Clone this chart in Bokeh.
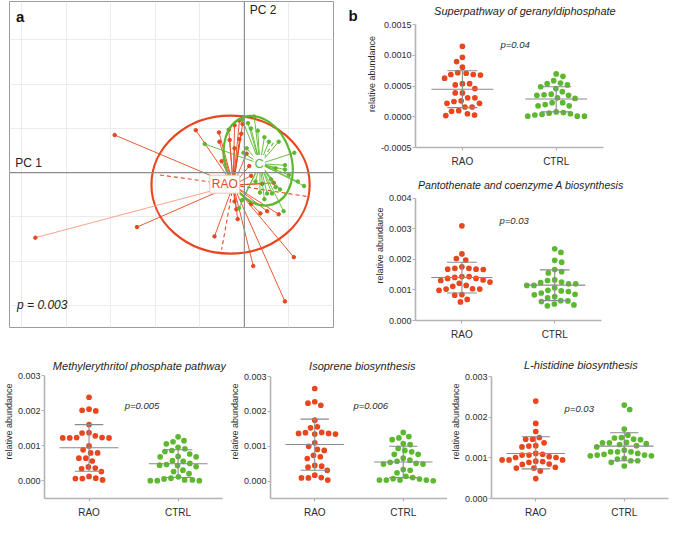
import math
from bokeh.plotting import figure
from bokeh.layouts import row, column
from bokeh.models import Label, FixedTicker, Range1d, Span, PrintfTickFormatter
from bokeh.embed import file_html
from bokeh.resources import INLINE

FONT = "Liberation Sans"
RED = "#e8461e"
RED_LIGHT = "#f4a58a"
GREEN = "#5cb82e"
AXIS_GRAY = "#b3b3b3"
STAT_GRAY = "#8a8a8a"

# ---------------- Panel a: PCA spider plot ----------------
RAO_CENTROID = (-0.25, -0.28)
CTRL_CENTROID = (0.35, 0.20)
RAO_PC1 = [-2.41, -2.91, -1.09, -0.67, 0.20, 0.91, 1.11, 0.77, 0.51, 0.36, 0.15, -0.18,
           -0.22, -0.57, -0.35, -0.22, -0.11, -0.04, -0.07, -0.33, -0.22, -0.51, 0.11,
           0.15, 0.40, 0.66, -0.56, -0.11, 0.05, -0.15]
RAO_PC2 = [-1.23, 0.85, 0.96, -1.44, -2.11, -2.91, -1.91, -0.94, -0.87, -0.92, -0.71, -0.83,
           -0.65, 0.91, 0.97, 1.07, 1.18, 1.10, 0.88, 0.74, 0.55, 0.26, 0.15,
           -0.07, -0.25, -0.23, 0.70, 0.76, 0.43, -1.05]
RAO_OUTLIER = (-4.69, -1.47)
RAO_DASHED_PC1 = [-1.90, -0.51, 1.42]
RAO_DASHED_PC2 = [-0.05, -1.74, -0.54]
CTRL_PC1 = [-0.89, -0.05, 0.22, 0.08, 0.15, 0.30, 0.45, 0.55, 0.77, 1.12, 0.91, 0.91, 1.00,
            1.34, 0.80, 0.70, 0.62, 0.51, 0.88, 0.45, -0.12, -0.05, 0.25, 0.05, 0.40,
            -0.02, 0.70, 0.60, 1.20, 0.35]
CTRL_PC2 = [0.65, 1.20, 1.27, 1.12, 1.00, 0.95, 0.80, 0.70, 0.70, 0.45, 0.17, 0.07, -0.05,
            -0.30, -0.38, -0.33, -0.47, -0.47, -0.87, -0.60, -0.80, -0.62, -0.20, 0.55, 0.35,
            0.45, 0.10, -0.15, -0.20, -0.45]
CTRL_DASHED_PC1 = [0.68]
CTRL_DASHED_PC2 = [0.72]
# ellipses: centre x, centre y, width, height, angle(deg)
RAO_ELLIPSE = (-0.31, -0.27, 3.55, 3.12, 0.0)
CTRL_ELLIPSE = (0.31, 0.27, 2.06, 1.49, -71.0)
PCA_GRID = [-5, -4, -3, -2, -1, 0, 1, 2]
PCA_GRID_Y = [-3, -2, -1, 0, 1, 2, 3]
P_PCA = "p = 0.003"

# ---------------- Panel b / bottom: dot plots ----------------
CATEGORIES = ["RAO", "CTRL"]

SUPER_UNIT = 1e-4
SUPER_RAO = [11.5, 9.7, 9.0, 8.1, 7.1, 6.9, 6.3, 6.8, 6.9, 7.2, 5.4, 5.2, 4.6, 5.4, 3.9, 3.9,
             2.6, 3.1, 3.1, 2.5, 2.2, 2.2, 1.6, 1.6, 1.0, 0.5, 0.2, 0.3, 0.9]
SUPER_CTRL = [7.0, 6.6, 5.5, 5.9, 5.2, 4.6, 4.9, 5.4, 4.1, 3.6, 3.5, 3.1, 3.0, 3.5, 3.7, 2.3,
              1.8, 1.8, 2.0, 2.3, 0.8, 0.6, 0.4, 0.1, 0.1, 0.1, 0.3, 0.5, 0.7]
SUPER_STATS = [(4.5, 1.5, 7.5), (2.9, 0.8, 4.9)]  # mean, mean-SD, mean+SD

PANTO_UNIT = 1e-3
PANTO_RAO = [3.10, 2.18, 2.03, 1.98, 1.71, 1.68, 1.68, 1.67, 1.71, 1.76, 1.44, 1.41, 1.38, 1.33,
             1.38, 1.44, 1.31, 1.22, 1.26, 1.03, 0.99, 1.12, 1.03, 1.04, 1.15, 0.83, 0.85, 0.61, 0.69]
PANTO_CTRL = [2.35, 2.23, 1.97, 1.91, 1.67, 1.56, 1.60, 1.31, 1.26, 1.33, 1.24, 1.20, 1.15, 1.20,
              1.15, 1.07, 0.97, 0.90, 0.95, 0.86, 0.78, 0.74, 0.84, 0.64, 0.54, 0.48, 0.51, 0.62,
              0.65, 0.99]
PANTO_STATS = [(1.41, 0.90, 1.91), (1.16, 0.65, 1.66)]

METHYL_UNIT = 1e-3
METHYL_RAO = [2.39, 2.05, 2.00, 2.02, 1.61, 1.37, 1.24, 1.23, 1.23, 1.23, 1.24, 1.29, 1.38, 1.00,
              0.89, 0.80, 0.80, 0.65, 0.57, 0.65, 0.40, 0.35, 0.37, 0.27, 0.13, 0.07, 0.03, 0.07, 0.08]
METHYL_CTRL = [1.26, 1.15, 1.06, 1.12, 0.92, 0.96, 0.87, 0.84, 0.69, 0.69, 0.77, 0.70, 0.56, 0.47,
               0.50, 0.58, 0.45, 0.41, 0.44, 0.31, 0.27, 0.12, 0.06, 0.03, 0.01, 0.01, 0.01, 0.03,
               0.08, 0.21]
METHYL_STATS = [(0.95, 0.28, 1.61), (0.49, 0.10, 0.89)]

ISOP_UNIT = 1e-3
ISOP_RAO = [2.66, 2.24, 2.18, 2.28, 1.75, 1.56, 1.40, 1.37, 1.35, 1.35, 1.37, 1.39, 1.53, 1.10,
            1.00, 0.91, 0.88, 0.74, 0.70, 0.65, 0.45, 0.40, 0.43, 0.31, 0.17, 0.09, 0.03, 0.09, 0.10]
ISOP_CTRL = [1.40, 1.19, 1.28, 1.24, 1.05, 1.08, 0.88, 0.94, 0.77, 0.77, 0.84, 0.60, 0.66, 0.49,
             0.49, 0.54, 0.51, 0.57, 0.31, 0.24, 0.33, 0.14, 0.07, 0.03, 0.03, 0.01, 0.03, 0.03,
             0.06, 0.10]
ISOP_STATS = [(1.05, 0.31, 1.78), (0.55, 0.10, 1.00)]

HIST_UNIT = 1e-3
HIST_RAO = [2.40, 1.85, 1.65, 1.46, 1.46, 1.50, 1.30, 1.27, 1.29, 1.37, 1.07, 1.03, 1.09, 1.11,
            1.01, 1.01, 1.07, 0.95, 0.95, 0.91, 0.89, 0.92, 0.95, 0.85, 0.84, 0.77, 0.75, 0.75,
            0.68, 0.49]
HIST_CTRL = [2.30, 2.19, 1.71, 1.50, 1.46, 1.49, 1.56, 1.38, 1.37, 1.45, 1.33, 1.27, 1.30, 1.35,
             1.37, 1.19, 1.15, 1.11, 1.07, 1.05, 1.05, 1.07, 1.09, 1.15, 1.15, 0.99, 0.97, 0.93,
             0.89, 0.93, 0.80]
HIST_STATS = [(1.11, 0.73, 1.52), (1.29, 0.93, 1.62)]

TITLES = ["Superpathway of geranyldiphosphate", "Pantothenate and coenzyme A biosynthesis",
          "Methylerythritol phosphate pathway", "Isoprene biosynthesis", "L-histidine biosynthesis"]
PVALUES = ["p=0.04", "p=0.03", "p=0.005", "p=0.006", "p=0.03"]
Y_LABEL = "relative abundance"


def swarm(values, ppy, d):
    """Greedy beeswarm: horizontal pixel offsets so that dots do not overlap."""
    order = sorted(range(len(values)), key=lambda i: -values[i])
    placed = []
    offs = [0.0] * len(values)
    for i in order:
        y = values[i] * ppy
        cands = [0.0]
        for (px, py) in placed:
            dy = abs(py - y)
            if dy < d:
                dx = math.sqrt(d * d - dy * dy)
                cands += [px - dx, px + dx]
        cands.sort(key=lambda c: (abs(c), -c if len(placed) % 2 else c))
        for c in cands:
            if all((c - px) ** 2 + (y - py) ** 2 >= d * d - 1e-6 for (px, py) in placed):
                offs[i] = c
                break
        placed.append((offs[i], y))
    return offs


def style_axes(p):
    for ax in (p.xaxis[0], p.yaxis[0]):
        ax.axis_line_color = AXIS_GRAY
        ax.axis_line_width = 1.6
        ax.major_tick_line_color = AXIS_GRAY
        ax.major_tick_line_width = 1.2
        ax.major_tick_out = 3
        ax.major_tick_in = 0
        ax.minor_tick_line_color = None
        ax.major_label_text_font = FONT
        ax.major_label_text_color = "#2b2b2b"


def dotplot(title, rao, ctrl, unit, stats, yr, ticks, fmt, ptxt, p_px, t_px, t_size,
            w, h, bl, bb, axis_w, top_px):
    """Frame fills the figure above/right of the axes; axes are bounded to the data span."""
    fw = w - bl
    fh = h - bb
    ppx = axis_w / 2.0
    ppy = (fh - top_px) / (yr[1] - yr[0])
    x_end = fw / ppx
    y_end = yr[0] + fh / ppy
    p = figure(width=w, height=h, output_backend="svg", toolbar_location=None,
               x_range=Range1d(0, x_end), y_range=Range1d(yr[0], y_end),
               min_border_left=bl, min_border_right=0, min_border_top=0, min_border_bottom=bb)
    p.outline_line_color = None
    p.grid.visible = False

    def to_data(fx, fy):
        return (fx - bl) / ppx, yr[0] + (fh - fy) / ppy

    for k, (vals, col) in enumerate(((rao, RED), (ctrl, GREEN))):
        ys = [v * unit for v in vals]
        offs = swarm(ys, ppy, 7.2)
        cx = k + 0.5
        xs = [cx + o / ppx for o in offs]
        p.scatter(xs, ys, size=5.7, fill_color=col, line_color=None)
    for k, (m, lo, hi) in enumerate(stats):
        cx = k + 0.5
        p.segment(x0=[cx - 0.33, cx, cx - 0.16, cx - 0.16],
                  y0=[m * unit, lo * unit, lo * unit, hi * unit],
                  x1=[cx + 0.33, cx, cx + 0.16, cx + 0.16],
                  y1=[m * unit, hi * unit, lo * unit, hi * unit],
                  line_color=STAT_GRAY, line_width=1.1)
    style_axes(p)
    p.xaxis.bounds = (0, len(CATEGORIES))
    p.yaxis.bounds = yr
    p.xaxis.ticker = FixedTicker(ticks=[i + 0.5 for i in range(len(CATEGORIES))])
    p.xaxis.major_label_overrides = {i + 0.5: c for i, c in enumerate(CATEGORIES)}
    p.xaxis.major_label_text_font_size = "10px"
    p.xaxis.major_label_standoff = 5
    p.yaxis.ticker = FixedTicker(ticks=ticks)
    p.yaxis.formatter = PrintfTickFormatter(format=fmt)
    p.yaxis.major_label_text_font_size = "9px"
    p.yaxis.major_label_standoff = 1
    p.yaxis.axis_label = Y_LABEL
    p.yaxis.axis_label_text_font = FONT
    p.yaxis.axis_label_text_font_size = "9px"
    p.yaxis.axis_label_text_font_style = "normal"
    p.yaxis.axis_label_text_color = "#2b2b2b"
    p.yaxis.axis_label_standoff = 1
    tx, ty = to_data(*t_px)
    p.add_layout(Label(x=tx, y=ty, text=title, text_font=FONT,
                       text_font_style="italic", text_font_size=t_size, text_color="#1e1e1e",
                       text_align="center", text_baseline="middle"))
    px_, py_ = to_data(*p_px)
    p.add_layout(Label(x=px_, y=py_, text=ptxt, text_font=FONT,
                       text_font_style="italic", text_font_size="9.5px", text_color="#2b2b2b",
                       text_align="center", text_baseline="middle"))
    return p


# ---------------- build panel a ----------------
pa = figure(width=342, height=344, output_backend="svg", toolbar_location=None,
            x_range=Range1d(-5.27, 2.0), y_range=Range1d(-3.5, 3.87),
            min_border_left=9, min_border_right=9, min_border_top=1, min_border_bottom=17)
pa.xaxis.visible = False
pa.yaxis.visible = False
pa.xgrid.ticker = FixedTicker(ticks=PCA_GRID)
pa.ygrid.ticker = FixedTicker(ticks=PCA_GRID_Y)
pa.grid.grid_line_color = "#ebebeb"
pa.grid.grid_line_width = 1
pa.outline_line_color = "#9c9c9c"
pa.outline_line_width = 1
pa.add_layout(Span(location=0, dimension="width", line_color="#8c8c8c", line_width=1.2))
pa.add_layout(Span(location=0, dimension="height", line_color="#8c8c8c", line_width=1.2))

rx, ry = RAO_CENTROID
gx, gy = CTRL_CENTROID
pa.ellipse(x=[RAO_ELLIPSE[0]], y=[RAO_ELLIPSE[1]], width=[RAO_ELLIPSE[2]], height=[RAO_ELLIPSE[3]],
           angle=[math.radians(RAO_ELLIPSE[4])], fill_color=None, line_color=RED, line_width=2.2)
pa.segment(x0=[rx], y0=[ry], x1=[RAO_OUTLIER[0]], y1=[RAO_OUTLIER[1]], line_color=RED_LIGHT, line_width=1)
pa.scatter([RAO_OUTLIER[0]], [RAO_OUTLIER[1]], size=3.5, color=RED)
pa.segment(x0=[rx] * len(RAO_DASHED_PC1), y0=[ry] * len(RAO_DASHED_PC1), x1=RAO_DASHED_PC1,
           y1=RAO_DASHED_PC2, line_color=RED, line_width=1.1, line_dash="4 3")
pa.segment(x0=[rx] * len(RAO_PC1), y0=[ry] * len(RAO_PC1), x1=RAO_PC1, y1=RAO_PC2,
           line_color=RED, line_width=0.9)
pa.scatter(RAO_PC1, RAO_PC2, size=3.5, color=RED)
pa.segment(x0=[gx] * len(CTRL_PC1), y0=[gy] * len(CTRL_PC1), x1=CTRL_PC1, y1=CTRL_PC2,
           line_color=GREEN, line_width=0.9)
pa.segment(x0=[gx] * len(CTRL_DASHED_PC1), y0=[gy] * len(CTRL_DASHED_PC1), x1=CTRL_DASHED_PC1,
           y1=CTRL_DASHED_PC2, line_color=GREEN, line_width=1.1, line_dash="4 3")
pa.scatter(CTRL_PC1, CTRL_PC2, size=3.5, color=GREEN)
pa.ellipse(x=[CTRL_ELLIPSE[0]], y=[CTRL_ELLIPSE[1]], width=[CTRL_ELLIPSE[2]], height=[CTRL_ELLIPSE[3]],
           angle=[math.radians(CTRL_ELLIPSE[4])], fill_color=None, line_color=GREEN, line_width=2.2)

pa.add_layout(Label(x=-0.44, y=-0.26, text="RAO", text_font=FONT, text_font_size="12px",
                    text_color=RED, text_align="center", text_baseline="middle",
                    background_fill_color="white", border_line_color="#f3c0b0", padding=2))
pa.add_layout(Label(x=0.33, y=0.21, text="C", text_font=FONT, text_font_size="13px",
                    text_color=GREEN, text_align="center", text_baseline="middle",
                    background_fill_color="white", padding=1))
pa.add_layout(Label(x=-4.84, y=0.21, text="PC 1", text_font=FONT, text_font_size="12px",
                    text_color="#222222", text_align="center", text_baseline="middle"))
pa.add_layout(Label(x=0.42, y=3.67, text="PC 2", text_font=FONT, text_font_size="12px",
                    text_color="#222222", text_align="center", text_baseline="middle"))
pa.add_layout(Label(x=-5.1, y=-3.0, text=P_PCA, text_font=FONT, text_font_size="12px",
                    text_font_style="italic", text_color="#222222", text_align="left",
                    text_baseline="middle"))
pa.add_layout(Label(x=-5.03, y=3.54, text="a", text_font=FONT, text_font_size="15px",
                    text_font_style="bold", text_color="#111111", text_align="center",
                    text_baseline="middle"))

# small blank strip carrying the panel letter "b"
pbl = figure(width=18, height=344, output_backend="svg", toolbar_location=None,
             x_range=Range1d(0, 18), y_range=Range1d(0, 344),
             min_border_left=0, min_border_right=0, min_border_top=0, min_border_bottom=0)
pbl.axis.visible = False
pbl.grid.visible = False
pbl.outline_line_color = None
pbl.add_layout(Label(x=10.6, y=344 - 14.6, text="b", text_font=FONT, text_font_size="15px",
                     text_font_style="bold", text_color="#111111", text_align="center",
                     text_baseline="middle"))

# ---------------- dot plots ----------------
pb1 = dotplot(TITLES[0], SUPER_RAO, SUPER_CTRL, SUPER_UNIT, SUPER_STATS, (-0.0005, 0.0015),
              [-0.0005, 0.0, 0.0005, 0.0010, 0.0015], "%.4f", PVALUES[0], (154.6, 43.7),
              (164.4, 10.7), "11px", 309, 170, 55, 23, 187.6, 24.3)
pb2 = dotplot(TITLES[1], PANTO_RAO, PANTO_CTRL, PANTO_UNIT, PANTO_STATS, (0.0, 0.004),
              [0.0, 0.001, 0.002, 0.003, 0.004], "%.3f", PVALUES[1], (153.7, 50.2),
              (160.5, 14.3), "10.6px", 309, 174, 55, 24, 185.6, 27.9)
pc1 = dotplot(TITLES[2], METHYL_RAO, METHYL_CTRL, METHYL_UNIT, METHYL_STATS, (-0.0005, 0.003),
              [0.0, 0.001, 0.002, 0.003], "%.3f", PVALUES[2], (138.7, 60.5),
              (136.0, 21.7), "11px", 226, 176, 38, 22, 184, 31.4)
pc2 = dotplot(TITLES[3], ISOP_RAO, ISOP_CTRL, ISOP_UNIT, ISOP_STATS, (-0.0005, 0.003),
              [0.0, 0.001, 0.002, 0.003], "%.3f", PVALUES[3], (141.2, 61.5),
              (132.4, 21.4), "11px", 221, 176, 37, 21, 184, 32.4)
pc3 = dotplot(TITLES[4], HIST_RAO, HIST_CTRL, HIST_UNIT, HIST_STATS, (0.0, 0.003),
              [0.0, 0.001, 0.002, 0.003], "%.3f", PVALUES[4], (128.2, 64.4),
              (129.9, 20.4), "11px", 222, 176, 37, 21, 184, 32.4)

layout = column(row(pa, pbl, column(pb1, pb2, spacing=0), spacing=0),
                row(pc1, pc2, pc3, spacing=0), spacing=0)

open("out.html", "w").write(file_html(layout, INLINE))
